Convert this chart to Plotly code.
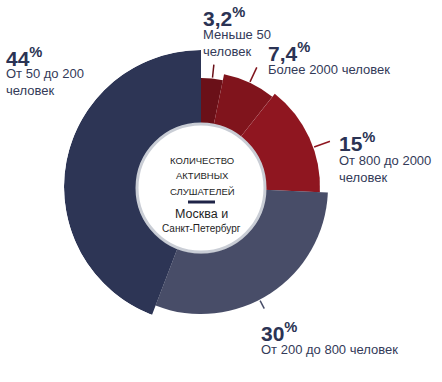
import plotly.graph_objects as go

# ---- data ----
categories = ["Меньше 50 человек", "Более 2000 человек", "От 800 до 2000 человек",
              "От 200 до 800 человек", "От 50 до 200 человек"]
pct_labels = ["3,2", "7,4", "15", "30", "44"]
shares = [3.2, 7.4, 15, 30, 44]
outer_r = [109, 115, 119, 127, 137]   # visual outer radius of each slice
colors = ["#6a1018", "#80141c", "#8f1620", "#484d68", "#2d3555"]
desc_text = ["Меньше 50<br>человек", "Более 2000 человек", "От 800 до 2000<br>человек",
             "От 200 до 800 человек", "От 50 до 200<br>человек"]
center_caps = ["КОЛИЧЕСТВО", "АКТИВНЫХ", "СЛУШАТЕЛЕЙ"]
center_city = ["Москва и", "Санкт-Петербург"]

W, H = 442, 382
CX, CY, R = 201, 187, 137

def px(x):
    return x / W

def py(y):
    return 1 - y / H

total = sum(shares)
widths = [s / total * 360 for s in shares]
mids = []
acc = 0
for w in widths:
    mids.append(acc + w / 2)
    acc += w

fig = go.Figure()
fig.add_trace(go.Barpolar(
    r=outer_r, theta=mids, width=widths,
    marker=dict(color=colors, line=dict(width=0)),
    hoverinfo="skip", showlegend=False,
))

# leader lines
leader_angles = [6, 25, 70.5, 152.5, 304]
leader_r0 = [o + 1 for o in outer_r]
leader_len = [13, 16, 17, 15, 18]
for a, r0, L, c in zip(leader_angles, leader_r0, leader_len, colors):
    fig.add_trace(go.Scatterpolar(
        r=[r0, r0 + L], theta=[a, a], mode="lines",
        line=dict(color=c, width=1.5), hoverinfo="skip", showlegend=False,
    ))

fig.update_layout(
    width=W, height=H,
    margin=dict(l=0, r=0, t=0, b=0),
    paper_bgcolor="white", plot_bgcolor="white",
    polar=dict(
        domain=dict(x=[px(CX - R), px(CX + R)], y=[py(CY + R), py(CY - R)]),
        bgcolor="rgba(0,0,0,0)",
        bargap=0,
        radialaxis=dict(visible=False, range=[0, R]),
        angularaxis=dict(visible=False, rotation=90, direction="clockwise"),
    ),
)

# center white circle
cr = 64
fig.add_shape(type="circle", xref="paper", yref="paper",
              x0=px(CX - cr - 1), x1=px(CX + cr + 1), y0=py(CY + cr + 3), y1=py(CY - cr + 1),
              fillcolor="rgba(150,155,165,0.35)", line=dict(width=0), layer="above")
fig.add_shape(type="circle", xref="paper", yref="paper",
              x0=px(CX - cr), x1=px(CX + cr), y0=py(CY + cr + 1), y1=py(CY - cr + 1),
              fillcolor="white", line=dict(color="#c9cdd5", width=3), layer="above")
fig.add_shape(type="rect", xref="paper", yref="paper",
              x0=px(188), x1=px(215), y0=py(203.5), y1=py(200.5),
              fillcolor="#1f2447", line=dict(width=0), layer="above")

navy = "#2b3354"
txt = "#333a58"
num_pos = [(201, 2), (266, 37), (337, 127), (259, 317), (4, 42)]
desc_pos = [(201, 25), (266, 60), (337, 151), (259, 340), (4, 64)]
for lab, (nx, ny), d, (dx, dy) in zip(pct_labels, num_pos, desc_text, desc_pos):
    fig.add_annotation(x=px(nx), y=py(ny), xref="paper", yref="paper",
                       xanchor="left", yanchor="top", showarrow=False,
                       text=f"<b>{lab}</b><sup><b>%</b></sup>",
                       font=dict(family="Liberation Sans, Arial", size=21, color=navy))
    fig.add_annotation(x=px(dx), y=py(dy), xref="paper", yref="paper",
                       xanchor="left", yanchor="top", showarrow=False, align="left",
                       text=d,
                       font=dict(family="Liberation Sans, Arial", size=13, color=txt))

narrow = "Liberation Sans Narrow, Liberation Sans, Arial"
for t, yy in zip(center_caps, [160, 175.5, 191]):
    fig.add_annotation(x=px(202), y=py(yy), xref="paper", yref="paper",
                       xanchor="center", yanchor="middle", showarrow=False,
                       text=t, font=dict(family=narrow, size=9.5, color="#1e1e1e"))
for t, yy, s in zip(center_city, [213.5, 228.5], [12.5, 10]):
    fig.add_annotation(x=px(201), y=py(yy), xref="paper", yref="paper",
                       xanchor="center", yanchor="middle", showarrow=False,
                       text=t, font=dict(family=narrow, size=s, color="#1e1e1e"))

fig.write_html("out.html", config={"displayModeBar": False},
               post_script="document.body.style.margin='0';document.body.style.padding='0';")
